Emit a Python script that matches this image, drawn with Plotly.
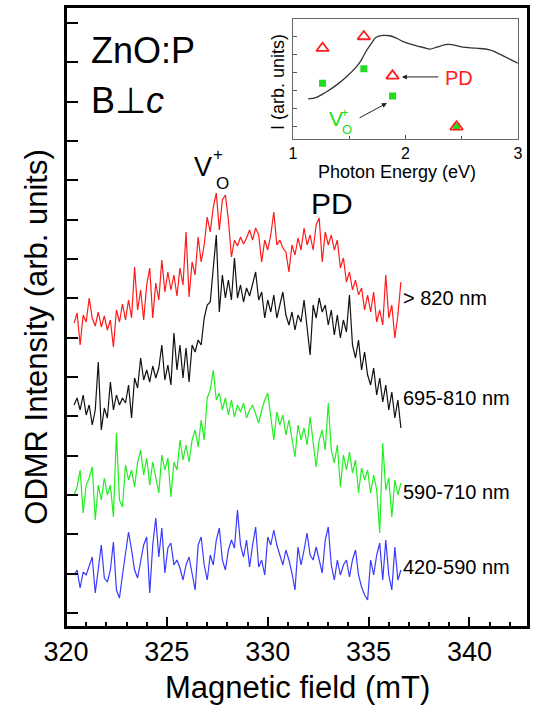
import plotly.graph_objects as go

# ---------------- data ----------------
field_mT = [
    320.40, 320.55, 320.70, 320.85, 321.00, 321.15, 321.30, 321.45, 321.60, 321.75,
    321.90, 322.05, 322.20, 322.35, 322.50, 322.65, 322.80, 322.95, 323.10, 323.25,
    323.40, 323.55, 323.70, 323.85, 324.00, 324.15, 324.30, 324.45, 324.60, 324.75,
    324.90, 325.05, 325.20, 325.35, 325.50, 325.65, 325.80, 325.95, 326.10, 326.25,
    326.40, 326.55, 326.70, 326.85, 327.00, 327.15, 327.30, 327.45, 327.60, 327.75,
    327.90, 328.05, 328.20, 328.35, 328.50, 328.65, 328.80, 328.95, 329.10, 329.25,
    329.40, 329.55, 329.70, 329.85, 330.00, 330.15, 330.30, 330.45, 330.60, 330.75,
    330.90, 331.05, 331.20, 331.35, 331.50, 331.65, 331.80, 331.95, 332.10, 332.25,
    332.40, 332.55, 332.70, 332.85, 333.00, 333.15, 333.30, 333.45, 333.60, 333.75,
    333.90, 334.05, 334.20, 334.35, 334.50, 334.65, 334.80, 334.95, 335.10, 335.25,
    335.40, 335.55, 335.70, 335.85, 336.00, 336.15, 336.30, 336.45, 336.60,
]

odmr_gt820 = [
    290, 300, 268, 298, 291, 315, 295, 287, 301, 286,
    297, 283, 293, 266, 303, 291, 309, 293, 313, 295,
    346, 303, 323, 293, 328, 345, 295, 330, 313, 353,
    321, 341, 323, 338, 317, 345, 328, 381, 316, 351,
    338, 376, 351, 368, 396, 381, 406, 420, 383, 413,
    418, 393, 356, 373, 367, 376, 369, 375, 383, 373,
    385, 378, 351, 373, 363, 378, 401, 368, 373, 365,
    361, 341, 368, 358, 375, 363, 385, 368, 378, 363,
    388, 395, 351, 381, 368, 378, 363, 373, 345, 355,
    331, 341, 323, 333, 318, 325, 303, 318, 301, 321,
    291, 303, 288, 338, 295, 308, 275, 298, 331,
]

odmr_695_810 = [
    208, 215, 203, 218, 198, 208, 188, 203, 251, 183,
    205, 195, 231, 203, 218, 208, 215, 210, 228, 195,
    235, 225, 255, 233, 243, 231, 247, 235, 245, 268,
    233, 248, 228, 280, 243, 268, 235, 265, 231, 268,
    261, 273, 268, 295, 308, 311, 345, 378, 301, 338,
    315, 333, 313, 355, 315, 328, 311, 325, 317, 330,
    341, 313, 321, 295, 313, 301, 318, 295, 308, 321,
    298, 288, 301, 283, 298, 291, 313, 285, 258, 308,
    295, 315, 301, 308, 288, 303, 278, 298, 275, 293,
    281, 318, 268, 255, 273, 243, 261, 238, 228, 245,
    218, 235, 211, 228, 203, 221, 195, 213, 185,
]

odmr_590_710 = [
    118, 126, 143, 100, 128, 135, 146, 93, 128, 113,
    135, 118, 128, 96, 180, 113, 106, 148, 133, 143,
    126, 151, 163, 138, 155, 128, 151, 135, 120, 158,
    143, 155, 116, 151, 143, 173, 153, 168, 151, 173,
    183, 166, 193, 173, 215, 223, 243, 213, 220, 203,
    215, 198, 213, 196, 208, 201, 210, 195, 203, 208,
    198, 190, 203, 213, 220, 195, 173, 201, 188, 198,
    178, 193, 173, 156, 188, 173, 185, 168, 196, 173,
    146, 173, 183, 163, 210, 163, 150, 168, 126, 158,
    143, 161, 140, 153, 120, 145, 133, 143, 120, 138,
    123, 80, 170, 123, 135, 96, 133, 118, 130,
]

odmr_420_590 = [
    38, 43, 25, 41, 38, 48, 56, 20, 43, 68,
    35, 31, 43, 71, 23, 15, 38, 58, 81, 63,
    43, 35, 50, 68, 76, 20, 68, 95, 56, 85,
    40, 65, 70, 48, 53, 45, 33, 48, 56, 38,
    23, 68, 76, 48, 33, 58, 48, 73, 85, 53,
    43, 63, 73, 65, 103, 68, 56, 73, 46, 68,
    86, 46, 53, 38, 76, 68, 83, 68, 58, 48,
    63, 53, 40, 23, 66, 48, 63, 80, 58, 53,
    66, 53, 40, 73, 86, 48, 33, 53, 38, 48,
    53, 36, 53, 63, 38, 26, 18, 13, 53, 38,
    58, 70, 33, 73, 38, 23, 66, 33, 43,
]

series_names = ["> 820 nm", "695-810 nm", "590-710 nm", "420-590 nm"]
series_values = [odmr_gt820, odmr_695_810, odmr_590_710, odmr_420_590]
series_colors = ["#ff1a1a", "#111111", "#22ee22", "#3a3aff"]
label_y = [315, 215, 121, 46]

# inset: photoexcitation spectrum
inset_energy = [1.136, 1.21, 1.30, 1.39, 1.48, 1.566, 1.61, 1.65, 1.70, 1.74,
                1.80, 1.86, 1.92, 1.98, 2.07, 2.16, 2.22, 2.28, 2.37, 2.42,
                2.51, 2.63, 2.75, 2.87, 3.00]
inset_intensity = [1.54, 1.63, 1.94, 2.32, 2.78, 3.33, 3.71, 4.17, 4.63, 4.96,
                   5.06, 5.04, 4.91, 4.72, 4.54, 4.39, 4.30, 4.41, 4.56, 4.54,
                   4.41, 4.35, 4.26, 3.93, 3.52]
pd_energy = [1.264, 1.631, 1.886, 2.455]
pd_signal = [4.35, 5.00, 2.82, 0.0]
vo_energy = [1.264, 1.631, 1.886, 2.455]
vo_signal = [2.41, 3.21, 1.71, 0.0]

FONT = "Arial, Liberation Sans, Helvetica, sans-serif"

fig = go.Figure()

for name, vals, col in zip(series_names, series_values, series_colors):
    fig.add_trace(go.Scatter(x=field_mT, y=vals, mode="lines", name=name,
                             line=dict(color=col, width=1.2), showlegend=False))

# inset traces
fig.add_trace(go.Scatter(x=inset_energy, y=inset_intensity, mode="lines",
                         line=dict(color="#333333", width=1.3, shape="spline"),
                         xaxis="x2", yaxis="y2", showlegend=False))
fig.add_trace(go.Scatter(x=vo_energy, y=vo_signal, mode="markers",
                         marker=dict(symbol="square", size=7, color="#22dd22"),
                         xaxis="x2", yaxis="y2", showlegend=False))
fig.add_trace(go.Scatter(x=pd_energy, y=pd_signal, mode="markers",
                         marker=dict(symbol="triangle-up-open", size=11, color="#ff2020",
                                     line=dict(width=1.8)),
                         xaxis="x2", yaxis="y2", showlegend=False))

ann = []
def txt(x, y, s, size, color="black", xanchor="center", yanchor="middle", xref="x", yref="y", angle=0):
    ann.append(dict(x=x, y=y, text=s, showarrow=False, xref=xref, yref=yref,
                    xanchor=xanchor, yanchor=yanchor, textangle=angle,
                    font=dict(family=FONT, size=size, color=color)))

for name, yv in zip(series_names, label_y):
    txt(336.62, yv, name, 20, xanchor="left")

txt(321.15, 563, "ZnO:P", 36, xanchor="left")
txt(321.15, 513, "B⊥<i>c</i>", 36, xanchor="left")
txt(326.78, 446, "V", 27)
txt(327.55, 459, "+", 17)
txt(327.75, 430, "O", 17)
txt(333.17, 410, "PD", 30)

# axis titles
txt(0.5, -0.098, "Magnetic field (mT)", 31, xref="paper", yref="paper")
txt(-0.063, 0.468, "ODMR Intensity (arb. units)", 31, xref="paper", yref="paper", angle=-90)

# inset titles
txt(0.716, 0.734, "Photon Energy (eV)", 18, xref="paper", yref="paper")
txt(0.459, 0.879, "I (arb. units)", 18, xref="paper", yref="paper", angle=-90)

# inset labels and arrows
txt(2.476, 2.71, "PD", 20, color="#ff2020", xref="x2", yref="y2")
txt(1.38, 0.48, "V", 21, color="#22dd22", xref="x2", yref="y2")
txt(1.466, 0.80, "+", 13, color="#22dd22", xref="x2", yref="y2")
txt(1.484, -0.15, "O", 13, color="#22dd22", xref="x2", yref="y2")
ann.append(dict(x=1.969, y=2.76, ax=2.307, ay=2.76, xref="x2", yref="y2",
                axref="x2", ayref="y2", text="", showarrow=True, arrowhead=2,
                arrowsize=1, arrowwidth=1, arrowcolor="#222222"))
ann.append(dict(x=1.836, y=1.31, ax=1.58, ay=0.45, xref="x2", yref="y2",
                axref="x2", ayref="y2", text="", showarrow=True, arrowhead=2,
                arrowsize=1, arrowwidth=1, arrowcolor="#222222"))

fig.update_layout(
    width=536, height=707,
    margin=dict(l=66, r=8, t=7, b=80, autoexpand=False),
    paper_bgcolor="white", plot_bgcolor="white",
    annotations=ann,
    shapes=[dict(type="rect", xref="paper", yref="paper", x0=0, x1=1, y0=0, y1=1,
                 line=dict(color="black", width=2), layer="above")],
    xaxis=dict(range=[320, 342.9], tickmode="array", tickvals=[320, 325, 330, 335, 340],
               ticks="inside", ticklen=10, tickwidth=2, tickcolor="black",
               minor=dict(dtick=1, tick0=320, ticks="inside", ticklen=5, tickwidth=2, tickcolor="black"),
               showline=True, linewidth=2, linecolor="black", mirror=True,
               showgrid=False, zeroline=False, automargin=False,
               tickfont=dict(family=FONT, size=27, color="black")),
    yaxis=dict(range=[-14, 606], tickmode="linear", tick0=0, dtick=39.33,
               ticks="inside", ticklen=12, tickwidth=2, tickcolor="black",
               showticklabels=False, showline=True, linewidth=2, linecolor="black",
               mirror=True, showgrid=False, zeroline=False, automargin=False),
    xaxis2=dict(domain=[0.491, 0.978], anchor="y2", range=[1, 3],
                tickmode="array", tickvals=[1, 2, 3], ticks="inside", ticklen=4,
                tickwidth=1, tickcolor="#555",
                minor=dict(tickvals=[1.5, 2.5], ticks="inside", ticklen=3, tickcolor="#555"),
                showline=True, linewidth=1, linecolor="#666", mirror=True,
                showgrid=False, zeroline=False, automargin=False,
                tickfont=dict(family=FONT, size=16, color="black")),
    yaxis2=dict(domain=[0.787, 0.981], anchor="x2", range=[-0.68, 5.98],
                tickmode="linear", tick0=0, dtick=1, ticks="inside", ticklen=4,
                tickwidth=1, tickcolor="#555", showticklabels=False,
                showline=True, linewidth=1, linecolor="#666", mirror=True,
                showgrid=False, zeroline=False, automargin=False),
)

# remove the browser's default page margin so the figure sits at the window's corner
fig.write_html("out.html", config={"displayModeBar": False},
               post_script="document.body.style.margin='0px';document.body.style.overflow='hidden';")
